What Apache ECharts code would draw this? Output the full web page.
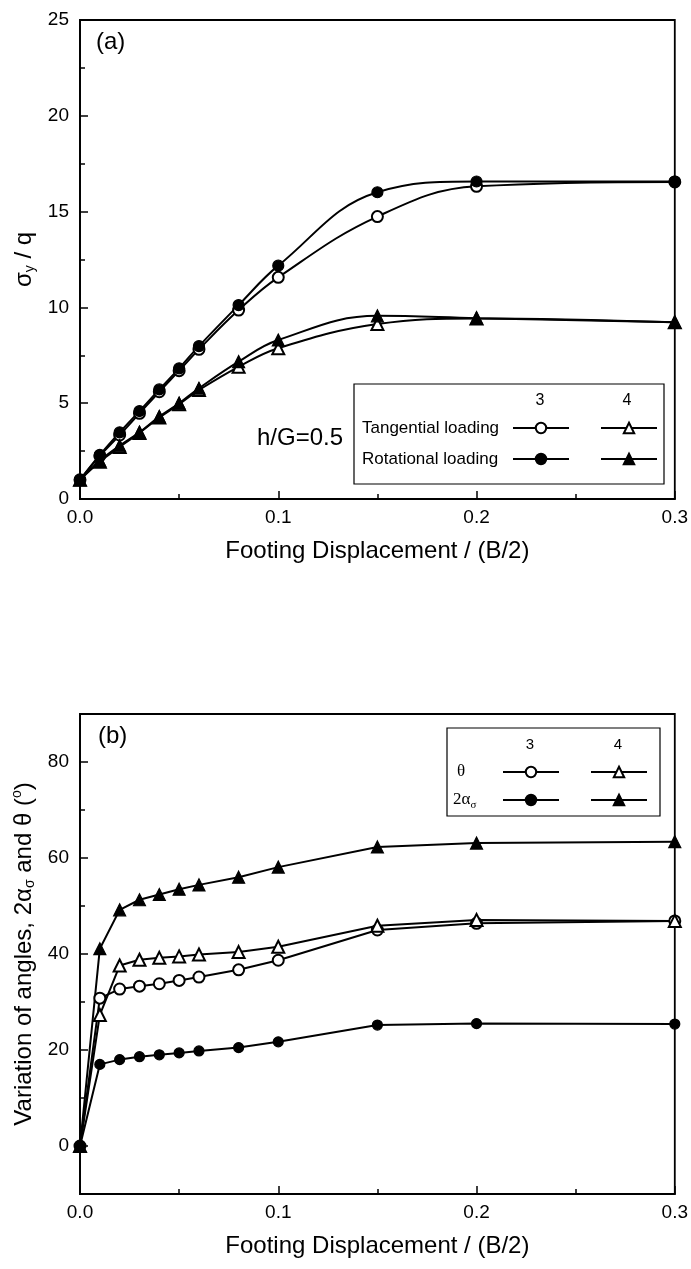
<!DOCTYPE html>
<html>
<head>
<meta charset="utf-8">
<script src="https://cdn.jsdelivr.net/npm/echarts@6/dist/echarts.min.js"></script>
<style>
html,body{margin:0;padding:0;background:#fff;}
#chart{width:691px;height:1269px;}
</style>
</head>
<body>
<div id="chart"></div>
<script>
// ---------- data ----------
const disp = [0, 0.01, 0.02, 0.03, 0.04, 0.05, 0.06, 0.08, 0.1, 0.15, 0.2, 0.3];

// panel (a): sigma_y / q
const tan3 = [1.0, 2.25, 3.34, 4.47, 5.6, 6.7, 7.81, 9.86, 11.57, 14.74, 16.32, 16.55];
const rot3 = [1.0, 2.3, 3.48, 4.59, 5.72, 6.82, 7.98, 10.12, 12.18, 16.01, 16.57, 16.57];
const tan4 = [1.0, 1.95, 2.72, 3.45, 4.25, 4.95, 5.69, 6.9, 7.87, 9.13, 9.42, 9.22];
const rot4 = [1.0, 2.0, 2.78, 3.48, 4.3, 5.0, 5.78, 7.17, 8.3, 9.56, 9.44, 9.22];

// panel (b): angles (degrees)
const theta3 = [0, 30.8, 32.7, 33.3, 33.8, 34.5, 35.2, 36.7, 38.7, 45.0, 46.4, 46.9];
const theta4 = [0, 27.3, 37.6, 38.8, 39.2, 39.5, 39.9, 40.4, 41.5, 45.9, 47.1, 46.9];
const alpha3 = [0, 17.0, 18.0, 18.6, 19.0, 19.4, 19.8, 20.5, 21.7, 25.2, 25.5, 25.4];
const alpha4 = [0, 41.1, 49.2, 51.3, 52.4, 53.5, 54.4, 56.0, 58.1, 62.3, 63.1, 63.4];

const yTicksB = [0, 20, 40, 60, 80];
const yMinorB = [10, 30, 50, 70];

// ---------- helpers ----------
const FONT = 'Liberation Sans, Arial, sans-serif';
const SERIF = 'Liberation Serif, Times New Roman, serif';
const pair = (xs, ys) => xs.map((x, i) => [x, ys[i]]);

function mkSeries(name, ys, symbol, size, xi, yi, smooth) {
  return {
    name: name, type: 'line', data: pair(disp, ys),
    xAxisIndex: xi, yAxisIndex: yi,
    smooth: smooth, symbol: symbol, symbolSize: size,
    showSymbol: true, showAllSymbol: true, clip: false,
    lineStyle: { color: '#000', width: 2 },
    itemStyle: { color: '#000', borderColor: '#000', borderWidth: 1.2 },
    emphasis: { disabled: true }, animation: false
  };
}

const tickLbl = { fontFamily: FONT, fontSize: 19, color: '#000' };

function xAxisDef(gi) {
  return {
    type: 'value', gridIndex: gi, min: 0, max: 0.3, interval: 0.1,
    axisLine: { show: true, onZero: false, lineStyle: { color: '#000', width: 1.8 } },
    axisTick: { show: true, inside: true, length: 8, lineStyle: { color: '#000', width: 1.5 } },
    minorTick: { show: true, splitNumber: 2, length: 5, lineStyle: { color: '#000', width: 1.5 } },
    splitLine: { show: false },
    axisLabel: Object.assign({ margin: 9, formatter: v => v.toFixed(1) }, tickLbl),
    name: 'Footing Displacement / (B/2)', nameLocation: 'middle', nameGap: 40,
    nameTextStyle: { fontFamily: FONT, fontSize: 24, color: '#000' }
  };
}

const legendBase = {
  formatter: () => '', selectedMode: false, itemWidth: 56, itemHeight: 13,
  padding: 0, textStyle: { fontSize: 1 }
};
function leg(name, left, cy) {
  return Object.assign({}, legendBase, { data: [name], left: left, top: cy - 6.5 });
}

const chart = echarts.init(document.getElementById('chart'), null, { renderer: 'canvas' });

const option = {
  backgroundColor: '#fff',
  animation: false,
  grid: [
    { left: 80, right: 16, top: 20, height: 479, show: true, borderColor: '#000', borderWidth: 1.8, containLabel: false },
    { left: 80, right: 16, top: 714, height: 480, show: true, borderColor: '#000', borderWidth: 1.8, containLabel: false }
  ],
  xAxis: [xAxisDef(0), xAxisDef(1)],
  yAxis: [
    {
      type: 'value', gridIndex: 0, min: 0, max: 25, interval: 5, position: 'left',
      axisLine: { show: true, onZero: false, lineStyle: { color: '#000', width: 1.8 } },
      axisTick: { show: true, inside: true, length: 8, lineStyle: { color: '#000', width: 1.5 } },
      minorTick: { show: true, splitNumber: 2, length: 5, lineStyle: { color: '#000', width: 1.5 } },
      splitLine: { show: false },
      axisLabel: Object.assign({ margin: 11 }, tickLbl),
      name: '{a|σ}{s|y}{a| / q}', nameLocation: 'middle', nameGap: 37,
      nameTextStyle: {
        fontFamily: FONT, fontSize: 24, color: '#000',
        rich: {
          a: { fontFamily: FONT, fontSize: 24, color: '#000' },
          s: { fontFamily: FONT, fontSize: 14, color: '#000', padding: [12, 0, 0, 0] }
        }
      }
    },
    {
      type: 'value', gridIndex: 1, min: -10, max: 90, interval: 10, position: 'left',
      axisLine: { show: true, onZero: false, lineStyle: { color: '#000', width: 1.8 } },
      axisTick: { show: true, inside: true, length: 8, customValues: yTicksB, lineStyle: { color: '#000', width: 1.5 } },
      splitLine: { show: false },
      axisLabel: Object.assign({ margin: 11, customValues: yTicksB }, tickLbl),
      name: '{a|Variation of angles, 2α}{s|σ}{a| and θ (}{p|o}{a|)}', nameLocation: 'middle', nameGap: 42,
      nameTextStyle: {
        fontFamily: FONT, fontSize: 24, color: '#000',
        rich: {
          a: { fontFamily: FONT, fontSize: 24, color: '#000' },
          s: { fontFamily: FONT, fontSize: 14, color: '#000', padding: [12, 0, 0, 0] },
          p: { fontFamily: FONT, fontSize: 14, color: '#000', padding: [0, 0, 14, 0] }
        }
      }
    },
    {
      type: 'value', gridIndex: 1, min: -10, max: 90, interval: 10, position: 'left', offset: 0,
      axisLine: { show: false, onZero: false },
      axisTick: { show: true, inside: true, length: 5, customValues: yMinorB, lineStyle: { color: '#000', width: 1.5 } },
      splitLine: { show: false },
      axisLabel: { show: false }
    }
  ],
  legend: [
    leg('Tangential 3', 512, 428), leg('Tangential 4', 600, 428),
    leg('Rotational 3', 512, 459), leg('Rotational 4', 600, 459),
    leg('θ 3', 502, 772), leg('θ 4', 590, 772),
    leg('2ασ 3', 502, 800), leg('2ασ 4', 590, 800)
  ],
  graphic: [
    { type: 'text', left: 96, top: 30, style: { text: '(a)', font: '24px ' + FONT, fill: '#000' } },
    { type: 'text', left: 98, top: 724, style: { text: '(b)', font: '24px ' + FONT, fill: '#000' } },
    { type: 'text', left: 257, top: 426, style: { text: 'h/G=0.5', font: '24px ' + FONT, fill: '#000' } },
    // legend box (a)
    { type: 'rect', shape: { x: 354, y: 384, width: 310, height: 100 }, style: { fill: '#fff', stroke: '#000', lineWidth: 1.2 }, z: -1 },
    { type: 'text', style: { x: 540, y: 401, text: '3', font: '16px ' + FONT, fill: '#000', align: 'center', verticalAlign: 'middle' } },
    { type: 'text', style: { x: 627, y: 401, text: '4', font: '16px ' + FONT, fill: '#000', align: 'center', verticalAlign: 'middle' } },
    { type: 'text', style: { x: 362, y: 428, text: 'Tangential loading', font: '17px ' + FONT, fill: '#000', verticalAlign: 'middle' } },
    { type: 'text', style: { x: 362, y: 459, text: 'Rotational loading', font: '17px ' + FONT, fill: '#000', verticalAlign: 'middle' } },
    // legend box (b)
    { type: 'rect', shape: { x: 447, y: 728, width: 213, height: 88 }, style: { fill: '#fff', stroke: '#000', lineWidth: 1.2 }, z: -1 },
    { type: 'text', style: { x: 530, y: 745, text: '3', font: '15px ' + FONT, fill: '#000', align: 'center', verticalAlign: 'middle' } },
    { type: 'text', style: { x: 618, y: 745, text: '4', font: '15px ' + FONT, fill: '#000', align: 'center', verticalAlign: 'middle' } },
    { type: 'text', style: { x: 457, y: 772, text: 'θ', font: '17px ' + SERIF, fill: '#000', verticalAlign: 'middle' } },
    { type: 'text', style: { x: 453, y: 800,
        text: '{a|2α}{s|σ}', verticalAlign: 'middle',
        rich: { a: { fontFamily: SERIF, fontSize: 17, fill: '#000' }, s: { fontFamily: SERIF, fontSize: 11, fill: '#000', padding: [10, 0, 0, 0] } } } }
  ],
  series: [
    mkSeries('Tangential 3', tan3, 'emptyCircle', 11, 0, 0, 0.4),
    mkSeries('Rotational 3', rot3, 'circle', 11, 0, 0, 0.4),
    mkSeries('Tangential 4', tan4, 'emptyTriangle', 12, 0, 0, 0.4),
    mkSeries('Rotational 4', rot4, 'triangle', 12, 0, 0, 0.4),
    mkSeries('θ 3', theta3, 'emptyCircle', 11, 1, 1, false),
    mkSeries('2ασ 3', alpha3, 'circle', 10, 1, 1, false),
    mkSeries('θ 4', theta4, 'emptyTriangle', 12, 1, 1, false),
    mkSeries('2ασ 4', alpha4, 'triangle', 12, 1, 1, false)
  ]
};
chart.setOption(option);
</script>
</body>
</html>
